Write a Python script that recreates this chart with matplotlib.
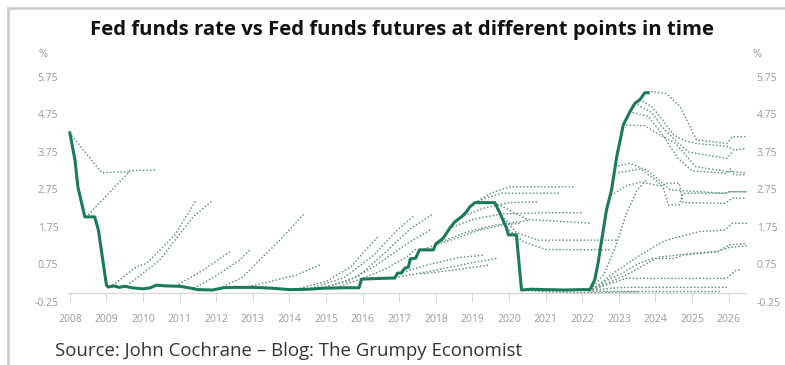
import matplotlib
matplotlib.use("Agg")
import matplotlib.pyplot as plt
from matplotlib.lines import Line2D

# Fed funds rate (year, %)
ff_years = [2008.0, 2008.14, 2008.22, 2008.41, 2008.68, 2008.78, 2008.9, 2009.0, 2009.05,
            2009.2, 2009.35, 2009.5, 2009.7, 2010.0, 2010.2, 2010.37, 2010.6, 2011.0,
            2011.3, 2011.5, 2011.9, 2012.2, 2012.5, 2013.0, 2013.5, 2014.0, 2014.5,
            2015.0, 2015.5, 2015.9, 2015.97, 2016.5, 2016.88, 2016.95, 2017.05, 2017.15,
            2017.25, 2017.3, 2017.45, 2017.55, 2017.93, 2018.0, 2018.2, 2018.38, 2018.52,
            2018.7, 2018.84, 2018.93, 2019.07, 2019.61, 2019.75, 2019.93, 2019.98, 2020.2,
            2020.34, 2020.6, 2021.0, 2021.5, 2022.0, 2022.21, 2022.34, 2022.43, 2022.53,
            2022.66, 2022.8, 2022.94, 2023.12, 2023.3, 2023.44, 2023.57, 2023.71, 2023.8]
ff_rate = [4.26, 3.54, 2.82, 2.02, 2.02, 1.67, 0.87, 0.2, 0.15,
           0.18, 0.14, 0.17, 0.13, 0.1, 0.13, 0.2, 0.18, 0.17,
           0.12, 0.08, 0.07, 0.13, 0.14, 0.14, 0.12, 0.08, 0.09,
           0.12, 0.13, 0.13, 0.36, 0.38, 0.39, 0.52, 0.52, 0.65,
           0.68, 0.9, 0.92, 1.14, 1.14, 1.3, 1.45, 1.72, 1.89,
           2.02, 2.16, 2.29, 2.4, 2.4, 2.12, 1.72, 1.54, 1.54,
           0.07, 0.09, 0.08, 0.07, 0.08, 0.08, 0.34, 0.78, 1.4,
           2.2, 2.74, 3.62, 4.47, 4.82, 5.05, 5.14, 5.33, 5.33]

# futures curves at different dates, (year, %) points
futures_2008_2013 = [
    [(2008.0, 4.25), (2008.87, 3.2), (2009.65, 3.22)],
    [(2008.45, 2.02), (2009.65, 3.25), (2010.37, 3.27)],
    [(2009.18, 0.2), (2009.82, 0.69), (2010.1, 0.78), (2010.87, 1.54), (2011.42, 2.42)],
    [(2009.64, 0.25), (2010.46, 0.87), (2010.87, 1.4), (2011.37, 2.02), (2011.92, 2.47)],
    [(2010.9, 0.18), (2011.64, 0.6), (2012.37, 1.09)],
    [(2011.4, 0.12), (2012.0, 0.45), (2012.64, 0.87), (2012.96, 1.18)],
    [(2012.1, 0.12), (2012.7, 0.4), (2013.28, 0.96), (2013.74, 1.4), (2014.42, 2.12)],
    [(2012.8, 0.14), (2013.28, 0.25), (2014.19, 0.47), (2014.83, 0.74)],
]
futures_2014_2017 = [
    [(2014.3, 0.12), (2015.0, 0.3), (2015.7, 0.7), (2016.0, 1.05), (2016.42, 1.49)],
    [(2014.6, 0.12), (2015.5, 0.4), (2016.3, 1.0), (2017.0, 1.72), (2017.38, 2.03)],
    [(2015.0, 0.13), (2015.9, 0.45), (2016.7, 1.15), (2017.3, 1.7), (2017.88, 2.07)],
    [(2014.8, 0.12), (2015.6, 0.3), (2016.4, 0.75), (2017.2, 1.3), (2017.9, 1.7)],
    [(2015.3, 0.14), (2016.0, 0.38), (2016.6, 0.62), (2017.2, 0.95), (2017.5, 1.2)],
]
futures_2017_2022 = [
    [(2017.02, 0.52), (2017.8, 0.75), (2018.6, 0.93), (2019.3, 1.0)],
    [(2017.0, 0.42), (2018.0, 0.6), (2018.9, 0.78), (2019.65, 0.91)],
    [(2017.6, 0.5), (2018.5, 0.6), (2019.47, 0.74)],
    [(2017.6, 1.14), (2018.4, 1.4), (2019.2, 1.67), (2019.8, 1.8), (2020.3, 1.85)],
    [(2018.0, 1.3), (2018.8, 1.6), (2019.6, 1.8), (2020.5, 1.92)],
    [(2018.38, 1.72), (2019.0, 1.95), (2019.8, 2.1), (2021.0, 2.13), (2021.98, 2.13)],
    [(2018.7, 2.02), (2019.3, 2.25), (2020.0, 2.4), (2020.8, 2.42)],
    [(2018.93, 2.29), (2019.3, 2.5), (2019.8, 2.65), (2021.39, 2.65)],
    [(2019.07, 2.4), (2019.5, 2.65), (2020.0, 2.82), (2021.8, 2.82)],
    [(2019.61, 2.4), (2020.0, 2.2), (2020.5, 1.95), (2022.25, 1.85)],
    [(2019.75, 2.12), (2020.2, 1.6), (2020.8, 1.4), (2022.98, 1.4)],
    [(2019.93, 1.72), (2020.4, 1.35), (2021.0, 1.15), (2022.75, 1.14)],
    [(2020.34, 0.07), (2021.0, 0.02), (2022.0, 0.0), (2023.5, 0.02)],
]
futures_2022_2026 = [
    [(2023.71, 5.33), (2023.9, 5.36), (2024.3, 5.31), (2024.67, 4.96), (2024.94, 4.43),
     (2025.12, 4.07), (2025.95, 3.98), (2026.1, 4.16), (2026.5, 4.16)],
    [(2023.57, 5.14), (2023.9, 4.96), (2024.2, 4.6), (2024.5, 4.2), (2024.8, 4.05),
     (2025.1, 3.98), (2025.95, 3.9), (2026.15, 3.8), (2026.5, 3.85)],
    [(2023.44, 5.05), (2023.9, 4.8), (2024.2, 4.4), (2024.5, 4.1), (2024.9, 3.75),
     (2025.95, 3.58), (2026.1, 3.75)],
    [(2023.3, 4.82), (2023.8, 4.7), (2024.2, 4.2), (2024.6, 3.6), (2025.0, 3.25),
     (2025.95, 3.18), (2026.05, 3.31), (2026.15, 3.14), (2026.5, 3.14)],
    [(2023.12, 4.47), (2023.7, 4.45), (2024.2, 4.16), (2024.55, 3.98), (2025.1, 3.36),
     (2025.95, 3.23), (2026.5, 3.2)],
    [(2022.9, 3.36), (2023.3, 3.45), (2023.75, 3.27), (2024.1, 3.0), (2024.4, 2.74),
     (2025.9, 2.65), (2026.0, 2.69), (2026.5, 2.69)],
    [(2022.8, 2.6), (2023.2, 2.85), (2023.6, 2.95), (2024.1, 2.85), (2024.35, 2.92),
     (2024.65, 2.92), (2024.75, 2.4), (2025.9, 2.38), (2026.1, 2.52), (2026.5, 2.52)],
    [(2023.0, 3.2), (2023.6, 3.3), (2024.0, 3.0), (2024.2, 2.83), (2024.35, 2.34),
     (2024.65, 2.34), (2024.75, 2.65), (2025.9, 2.65), (2026.05, 2.69), (2026.5, 2.69)],
    [(2022.25, 0.1), (2022.6, 0.5), (2022.9, 1.2), (2023.2, 2.1), (2023.5, 2.74), (2023.75, 3.0)],
    [(2022.3, 0.1), (2022.9, 0.55), (2023.5, 0.95), (2024.0, 1.25), (2024.3, 1.4),
     (2024.7, 1.5), (2025.2, 1.63), (2025.9, 1.67), (2026.1, 1.85), (2026.5, 1.85)],
    [(2022.3, 0.1), (2022.7, 0.34), (2023.1, 0.52), (2023.55, 0.78), (2023.9, 0.91),
     (2024.5, 0.91), (2024.75, 1.0), (2025.7, 1.09), (2026.0, 1.27), (2026.5, 1.31)],
    [(2022.3, 0.1), (2022.8, 0.3), (2023.3, 0.52), (2023.8, 0.8), (2024.1, 0.95),
     (2024.6, 1.0), (2025.0, 1.05), (2025.7, 1.1), (2026.0, 1.2), (2026.5, 1.25)],
    [(2022.3, 0.08), (2022.8, 0.25), (2023.2, 0.38), (2025.95, 0.38), (2026.2, 0.6), (2026.3, 0.6)],
    [(2022.3, 0.06), (2022.8, 0.12), (2023.2, 0.14), (2026.0, 0.14)],
    [(2022.2, 0.04), (2023.5, 0.03), (2025.75, 0.03)],
]

year_ticks = list(range(2008, 2027))
y_ticks = [-0.25, 0.75, 1.75, 2.75, 3.75, 4.75, 5.75]

solid_col = '#1b7a58'
dot_col = '#6a9482'
grey = '#9a9a9a'

fig = plt.figure(figsize=(7.85, 3.65), dpi=100)
ax = fig.add_axes([68 / 785, 63 / 365, 679 / 785, 225 / 365])

for group in (futures_2008_2013, futures_2014_2017, futures_2017_2022, futures_2022_2026):
    for curve in group:
        xs = [p[0] for p in curve]
        ys = [p[1] for p in curve]
        ax.plot(xs, ys, color=dot_col, lw=1.2, linestyle=(0, (0.1, 2.0)),
                dash_capstyle='round')

ax.plot(ff_years, ff_rate, color=solid_col, lw=2.2, solid_joinstyle='round')

ax.axhline(0, color='#d9d9d9', lw=1, zorder=0)
ax.set_xlim(2007.95, 2026.5)
ax.set_ylim(-0.25, 5.75)
for s in ax.spines.values():
    s.set_visible(False)
ax.set_xticks(year_ticks)
ax.set_xticklabels([str(y) for y in year_ticks])
ax.set_yticks(y_ticks)
ax.set_yticklabels(['%.2f' % v for v in y_ticks])
ax.tick_params(axis='x', direction='in', length=7, width=0.8, color='#d9d9d9',
               labelsize=7.5, labelcolor=grey, pad=9)
ax.tick_params(axis='y', length=0, labelsize=7.5, labelcolor=grey, pad=7,
               labelleft=True, labelright=True)
for lab in ax.get_xticklabels() + ax.get_yticklabels():
    lab.set_fontfamily('Open Sans')

fig.text(43 / 785, 1 - 54 / 365, '%', fontsize=7, color=grey, ha='center', va='center')
fig.text(757 / 785, 1 - 54 / 365, '%', fontsize=7, color=grey, ha='center', va='center')

fig.text(402 / 785, 1 - 30 / 365, 'Fed funds rate vs Fed funds futures at different points in time',
         fontsize=14.6, fontweight='bold', color='#111111', ha='center', va='center',
         fontfamily='Open Sans')
fig.text(55 / 785, 1 - 351 / 365, 'Source: John Cochrane \u2013 Blog: The Grumpy Economist',
         fontsize=13.4, color='#333333', ha='left', va='center', fontfamily='Open Sans')

# frame lines top and left
fig.add_artist(Line2D([8 / 785, 1], [1 - 8 / 365, 1 - 8 / 365], color='#cccccc', lw=1.8))
fig.add_artist(Line2D([8 / 785, 8 / 785], [0, 1 - 8 / 365], color='#cccccc', lw=1.8))

fig.savefig('out.png', dpi=100)
